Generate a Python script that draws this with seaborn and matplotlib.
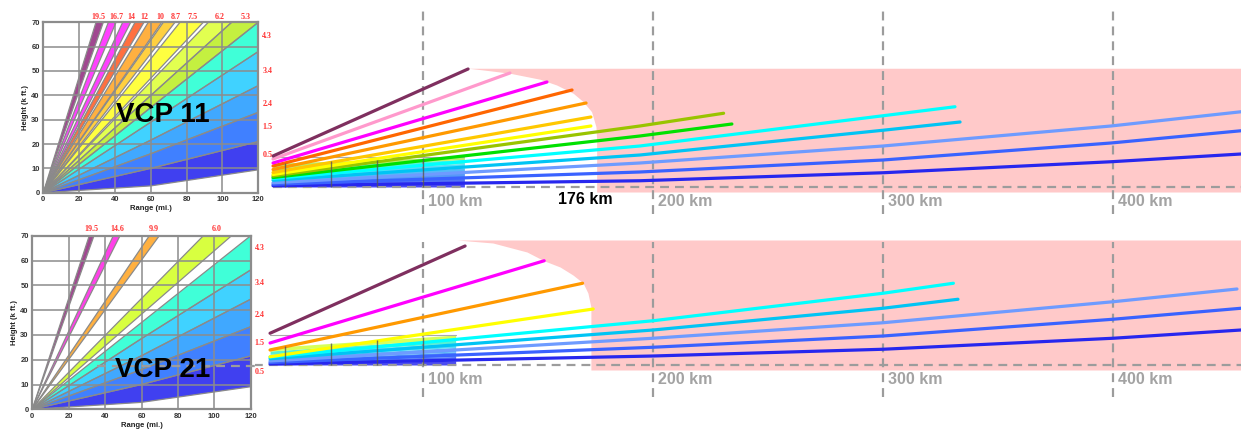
import numpy as np
import pandas as pd
import matplotlib
matplotlib.use("Agg")
import matplotlib.pyplot as plt
import seaborn as sns

# ======================= DATA =======================
# ---- VCP 11 main panel: beam centre lines (range km, height units) ----
v11_angles = ["0.5", "1.5", "2.4", "3.4", "4.3", "5.3", "6.2", "7.5", "8.7", "10", "12", "14", "16.7", "19.5"]
v11_line_colors = ["#2727EE", "#3A62FF", "#6E9BFF", "#00C4F4", "#00FFFF", "#00E000", "#99C400",
                   "#FFFF00", "#FFC800", "#FF9900", "#FF6600", "#FF00FF", "#FF99CC", "#7F2F5F"]
v11_beam_km = [
    [34.8, 194.3, 300.0, 399.1, 455.7],
    [34.8, 194.3, 300.0, 399.1, 455.7],
    [34.8, 194.3, 300.0, 399.1, 455.7],
    [34.8, 194.3, 300.0, 333.5],
    [34.8, 194.3, 300.0, 331.3],
    [34.8, 194.3, 234.3],
    [34.8, 194.3, 230.7],
    [34.8, 173.0],
    [34.8, 173.0],
    [34.8, 170.9],
    [34.8, 164.8],
    [34.8, 153.9],
    [34.8, 137.8],
    [34.8, 119.6],
]
v11_beam_h = [
    [0.5, 2.5, 5.7, 10.1, 13.2],
    [1.1, 6.0, 10.8, 17.6, 22.5],
    [1.7, 9.6, 16.4, 24.4, 30.1],
    [2.7, 12.8, 22.7, 26.0],
    [3.4, 16.4, 28.5, 32.1],
    [3.8, 20.4, 25.2],
    [4.4, 24.4, 29.5],
    [5.0, 24.4],
    [5.8, 28.0],
    [7.0, 33.6],
    [8.4, 38.8],
    [9.6, 42.0],
    [11.2, 45.6],
    [12.4, 47.2],
]

# ---- VCP 21 main panel ----
v21_angles = ["0.5", "1.5", "2.4", "3.4", "4.3", "6.0", "9.9", "14.6", "19.5"]
v21_line_colors = ["#2727EE", "#3A62FF", "#6E9BFF", "#00C4F4", "#00FFFF", "#FFFF00", "#FF9900", "#FF00FF", "#7F2F5F"]
v21_beam_km = [
    [33.5, 200.0, 300.0, 400.0, 455.7],
    [33.5, 200.0, 300.0, 400.0, 455.7],
    [33.5, 200.0, 300.0, 400.0, 453.9],
    [33.5, 200.0, 300.0, 332.6],
    [33.5, 200.0, 300.0, 330.6],
    [33.5, 174.0],
    [33.5, 169.4],
    [33.5, 152.7],
    [33.5, 118.3],
]
v21_beam_h = [
    [0.4, 3.6, 6.3, 10.7, 14.0],
    [1.0, 7.1, 11.6, 18.3, 22.7],
    [1.6, 10.7, 16.9, 25.3, 30.4],
    [2.5, 14.0, 22.7, 26.3],
    [3.2, 17.7, 28.7, 32.7],
    [3.3, 22.4],
    [6.0, 32.7],
    [8.8, 41.7],
    [12.7, 47.6],
]

# ---- pink zone beyond the high-elevation beams ----
v11_zone_h = [-2.0, 0.0, 18.8, 24.1, 30.1, 34.1, 37.5, 40.8, 43.1, 45.5, 46.5, 47.5]
v11_zone_km = [175.5, 175.5, 175.5, 175.2, 173.3, 169.7, 165.3, 158.1, 150.9, 137.8, 129.1, 119.7]
v21_zone_h = [-2.0, 0.8, 23.2, 28.8, 32.8, 36.0, 39.2, 41.7, 45.2, 48.8, 50.0]
v21_zone_km = [173.0, 173.0, 173.0, 171.7, 169.6, 165.2, 159.6, 152.6, 145.2, 130.4, 114.8]

# ---- small coloured fan near the radar ----
fan_colors_11 = ["#3C3CF0", "#4466F5", "#4890F8", "#48B4F8", "#48D8F8", "#48F0D8", "#B0EC60"]
fan_colors_21 = ["#3C3CF0", "#4466F5", "#4890F8", "#48B4F8", "#48D8F8", "#48F0D0", "#D4FF4C"]
v11_fan_km = [34.8, 118.0]
v11_fan_left = [0, 0.8, 1.6, 2.8, 4.0, 5.6, 7.6, 9.5]
v11_fan_right = [0, 1.6, 3.6, 5.6, 7.6, 9.4, 11.0, 12.1]
v21_fan_km = [33.5, 114.2]
v21_fan_left = [0, 0.6, 1.2, 2.0, 3.0, 4.4, 5.6, 7.0]
v21_fan_right = [0, 1.6, 3.4, 5.2, 7.0, 8.8, 10.4, 12.0]
fan_grid_km = [40, 60, 80, 100]

# ---- range markers ----
ref_km = [100, 200, 300, 400]
ref_labels = ["100 km", "200 km", "300 km", "400 km"]
cone_km = 176

# ---- insets: beam wedges (range mi, height kft) ----
v11_lo_x = [120, 120, 120, 120, 120, 120, 105.1, 89.3, 73.5, 66.1, 56.2, 48.8, 40.6, 33.5]
v11_lo_y = [9.4, 21, 33, 44, 58, 70, 70, 70, 70, 70, 70, 70, 70, 70]
v11_hi_x = [120, 120, 120, 120, 120, 105.1, 92.1, 76.3, 67.0, 58.6, 51.2, 44.3, 36.3, 29.4]
v11_hi_y = [21, 33, 44, 58, 70, 70, 70, 70, 70, 70, 70, 70, 70, 70]
v11_lo_mid = [2.8, 10.0, 16.0, 21.6, 29.0, 35.0]
v11_hi_mid = [10.0, 16.0, 21.6, 29.0, 35.0]
v11_band_colors = ["#4040F0", "#4080FF", "#40A8FF", "#40D2FF", "#40FFD8", "#C4F040", "#E2FF50",
                   "#FFFF40", "#FFD040", "#FFB040", "#FF7040", "#FF40FF", "#FF40FF", "#A04890"]
v11_top_labels = ["19.5", "16.7", "14", "12", "10", "8.7", "7.5", "6.2", "5.3"]
v11_top_label_x = [30.5, 41.1, 48.9, 56.2, 65.1, 74.1, 83.5, 98.6, 113.1]
v11_right_labels = ["4.3", "3.4", "2.4", "1.5", "0.5"]
v11_right_label_y = [64.5, 50.1, 36.4, 27.0, 15.5]

v21_lo_x = [120, 120, 120, 120, 120, 109.5, 69.8, 48.2, 33.9]
v21_lo_y = [9.1, 21.5, 33.3, 44.4, 56.2, 70, 70, 70, 70]
v21_hi_x = [120, 120, 120, 120, 120, 94.0, 64.3, 44.5, 31.3]
v21_hi_y = [21.5, 33.3, 44.4, 56.2, 70, 70, 70, 70, 70]
v21_lo_mid = [2.8, 10.0, 16.0, 21.6, 28.5]
v21_hi_mid = [10.0, 16.0, 21.6, 28.5, 35.0]
v21_band_colors = ["#4040F0", "#4080FF", "#40A8FF", "#40D2FF", "#40FFD8", "#D8FF40", "#FFB040", "#FF40E8", "#A04890"]
v21_top_labels = ["19.5", "14.6", "9.9", "6.0"]
v21_top_label_x = [32.6, 46.5, 66.9, 101.3]
v21_right_labels = ["4.3", "3.4", "2.4", "1.5", "0.5"]
v21_right_label_y = [64.9, 50.8, 38.0, 26.9, 15.2]

range_ticks = [0, 20, 40, 60, 80, 100, 120]
height_ticks = [0, 10, 20, 30, 40, 50, 60, 70]

# ======================= STYLE =======================
sns.set_theme(style="white")
plt.rcParams["font.family"] = ["Liberation Sans", "DejaVu Sans"]

W, H = 1241, 432
fig = plt.figure(figsize=(W / 100, H / 100), dpi=100)


def rect(l, t, r, b):
    return [l / W, 1 - b / H, (r - l) / W, (b - t) / H]


GRAY = "#9C9C9C"
DASH = (0, (4, 2.7))


def main_panel(ax, angles, colors, beam_km, beam_h, zone_km, zone_h, fan_km, fan_l, fan_r, fan_cols,
               ylim, vtop, vbot, lab_y, show_cone):
    rows = []
    for a, xs, hs in zip(angles, beam_km, beam_h):
        for x, h in zip(xs, hs):
            rows.append({"angle": a, "km": x, "h": h})
    df = pd.DataFrame(rows)
    ax.fill_betweenx(zone_h, zone_km, 480, color="#FFC9C9", lw=0, zorder=0.5)
    for k in range(len(fan_cols)):
        ax.fill_between(fan_km, [fan_l[k], fan_r[k]], [fan_l[k + 1], fan_r[k + 1]],
                        color=fan_cols[k], lw=0, alpha=0.92, zorder=2)
    ax.plot(fan_km, [fan_r[-1], fan_r[-1]], color="#AAAAAA", lw=0.8, zorder=2.1)
    sns.lineplot(data=df, x="km", y="h", hue="angle", hue_order=angles,
                 palette=dict(zip(angles, colors)), estimator=None, sort=False,
                 legend=False, lw=2.3, ax=ax, zorder=3)
    tops = np.interp(fan_grid_km, fan_km, [fan_l[-1], fan_r[-1]])
    ax.vlines(fan_grid_km, 0, tops, color="#555555", lw=1.0, alpha=0.8, zorder=4)
    ax.vlines(ref_km, vbot, vtop, colors=GRAY, lw=1.6, linestyles=[DASH], zorder=2.5)
    ax.plot([fan_km[0] if show_cone else 20, 470], [0, 0], color=GRAY, lw=1.6, ls=DASH, zorder=2.5)
    for k, lab in zip(ref_km, ref_labels):
        ax.text(k + 2, lab_y, lab, color="#A3A3A3", fontsize=11.5, fontweight="bold",
                ha="left", va="center", zorder=5)
    if show_cone:
        ax.text(170.4, -5.0, f"{cone_km} km", color="black", fontsize=11.5, fontweight="bold",
                ha="center", va="center", zorder=5)
    ax.set_xlim(26.96, 455.65)
    ax.set_ylim(*ylim)
    ax.set_axis_off()


ax_t = fig.add_axes(rect(255, 0, 1241, 216), facecolor="none")
main_panel(ax_t, v11_angles, v11_line_colors, v11_beam_km, v11_beam_h, v11_zone_km, v11_zone_h,
           v11_fan_km, v11_fan_left, v11_fan_right, fan_colors_11, (-11.6, 74.8), 70.8, -10.8, -5.8, True)
ax_b = fig.add_axes(rect(255, 216, 1241, 432), facecolor="none")
main_panel(ax_b, v21_angles, v21_line_colors, v21_beam_km, v21_beam_h, v21_zone_km, v21_zone_h,
           v21_fan_km, v21_fan_left, v21_fan_right, fan_colors_21, (-26.8, 59.6), 49.2, -12.8, -5.6, False)


def inset(ax, lo_x, lo_y, hi_x, hi_y, lo_mid, hi_mid, cols, top_labs, top_x, top_y,
          right_labs, right_y, title, title_xy, ylab_x):
    for i in range(len(cols)):
        lo = [(0, 0)] + ([(60, lo_mid[i])] if i < len(lo_mid) else []) + [(lo_x[i], lo_y[i])]
        hi = [(0, 0)] + ([(60, hi_mid[i])] if i < len(hi_mid) else []) + [(hi_x[i], hi_y[i])]
        poly = lo + hi[1:][::-1]
        ax.fill([p[0] for p in poly], [p[1] for p in poly], color=cols[i], lw=0, zorder=1)
        for edge in (lo, hi):
            ax.plot([p[0] for p in edge], [p[1] for p in edge], color="#8A8A8A", lw=0.9, zorder=1.5)
    ax.set_xlim(0, 120)
    ax.set_ylim(0, 70)
    ax.set_xticks(range_ticks)
    ax.set_yticks(height_ticks)
    ax.set_axisbelow(False)
    ax.grid(True, color="#8C8C8C", lw=1.3, alpha=0.85)
    for s in ax.spines.values():
        s.set_color("#8C8C8C")
        s.set_linewidth(1.6)
    ax.tick_params(length=0, pad=2.5, labelsize=5.5, labelcolor="#333333")
    for t in ax.get_xticklabels() + ax.get_yticklabels():
        t.set_fontweight("bold")
    ax.set_xlabel("Range (mi.)", fontsize=5.5, fontweight="bold", labelpad=1.5, color="#222222")
    ax.set_ylabel("Height (k ft.)", fontsize=5.5, fontweight="bold", labelpad=1.5, color="#222222")
    for lab, x in zip(top_labs, top_x):
        ax.text(x, top_y, lab, color="#FF3333", fontsize=5.8, fontweight="bold",
                family="Liberation Serif", ha="center", va="center", clip_on=False)
    for lab, y in zip(right_labs, right_y):
        ax.text(125, y, lab, color="#FF3333", fontsize=5.8, fontweight="bold",
                family="Liberation Serif", ha="center", va="center", clip_on=False)
    ax.text(*title_xy, title, fontsize=20, fontweight="bold", color="black",
            ha="center", va="center", zorder=6)


ax_i1 = fig.add_axes(rect(43.3, 22.3, 258.3, 192.7), facecolor="white")
inset(ax_i1, v11_lo_x, v11_lo_y, v11_hi_x, v11_hi_y, v11_lo_mid, v11_hi_mid, v11_band_colors,
      v11_top_labels, v11_top_label_x, 72.1, v11_right_labels, v11_right_label_y,
      "VCP 11", (66.8, 31.9), None)
ax_i2 = fig.add_axes(rect(32.3, 235.7, 250.7, 409.3), facecolor="white")
inset(ax_i2, v21_lo_x, v21_lo_y, v21_hi_x, v21_hi_y, v21_lo_mid, v21_hi_mid, v21_band_colors,
      v21_top_labels, v21_top_label_x, 72.8, v21_right_labels, v21_right_label_y,
      "VCP 21", (71.8, 15.8), None)
# radar baseline of the lower panel, visible across the inset
ax_i2.plot([35.4, 124], [17.6, 17.6], color=GRAY, lw=1.6, ls=DASH, clip_on=False, zorder=5)

fig.savefig("out.png", dpi=100)
